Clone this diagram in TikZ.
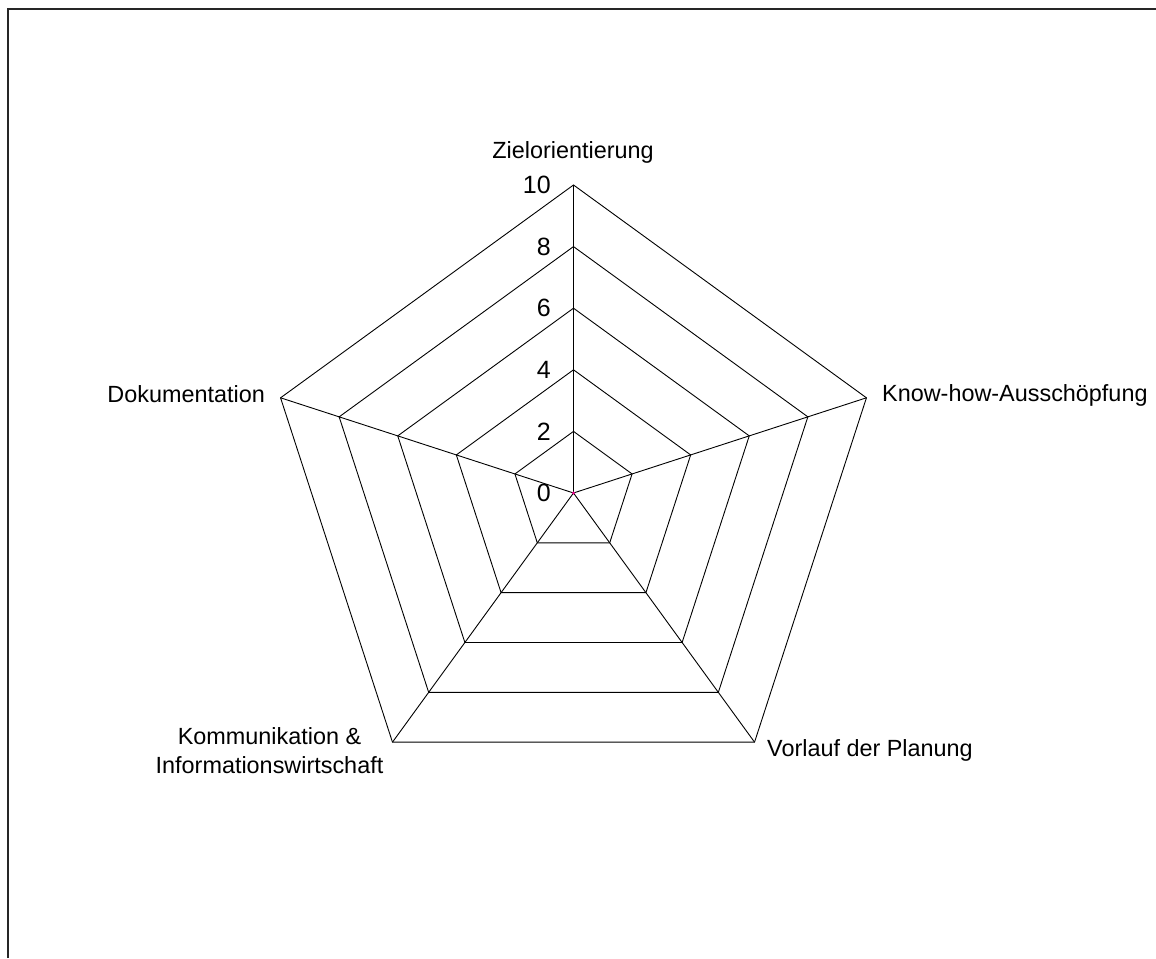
\documentclass[tikz,border=0pt]{standalone}
\usepackage{fontspec}
\setmainfont{Liberation Sans}
\usetikzlibrary{calc}
\begin{document}
\begin{tikzpicture}[x=1pt,y=1pt,
  frameline/.style={line width=1.6pt,black!85},
  gridline/.style={line width=0.9pt,black},
  axislabel/.style={inner sep=0pt,font=\fontsize{23.4}{29}\selectfont},
  ticklabel/.style={inner sep=0pt,anchor=east,font=\fontsize{25}{30}\selectfont}]
  \useasboundingbox (0,0) rectangle (1156,958);
  % open frame: left and top edges only
  \coordinate (fbl) at (8,0);
  \coordinate (ftl) at (8,949);
  \coordinate (ftr) at (1156,949);
  \draw[frameline] (fbl) -- (ftl) -- (ftr);

  % radar chart
  \coordinate (C) at (573.5,465);
  \foreach \j in {1,...,5}{
    \foreach \k/\a in {1/90,2/18,3/-54,4/-126,5/162}{
      \coordinate (v\k\j) at ($(C)+(\a:{61.6*\j})$);
    }
    \draw[gridline] (v1\j) -- (v2\j) -- (v3\j) -- (v4\j) -- (v5\j) -- cycle;
  }
  \foreach \k in {1,...,5}{
    \draw[gridline] (C) -- (v\k5);
  }
  % scale values
  \node[ticklabel] (t0) at ($(C)+(-22.5,0)$) {0};
  \foreach \j/\v in {1/2,2/4,3/6,4/8,5/10}{
    \node[ticklabel] (t\v) at ($(C)+(-22.5,{61.6*\j})$) {\v};
  }
  % data series (all values zero)
  \fill[magenta] (C) circle (1.6);

  % axis names
  \node[axislabel,anchor=base] (l1) at (573,799) {Zielorientierung};
  \node[axislabel,anchor=base west] (l2) at (882,556) {Know-how-Ausschöpfung};
  \node[axislabel,anchor=base west] (l3) at (767,201) {Vorlauf der Planung};
  \node[axislabel,anchor=base,align=center] (l4) at (269.5,184) {Kommunikation \&\\Informationswirtschaft};
  \node[axislabel,anchor=base east] (l5) at (265,555) {Dokumentation};
\end{tikzpicture}
\end{document}
